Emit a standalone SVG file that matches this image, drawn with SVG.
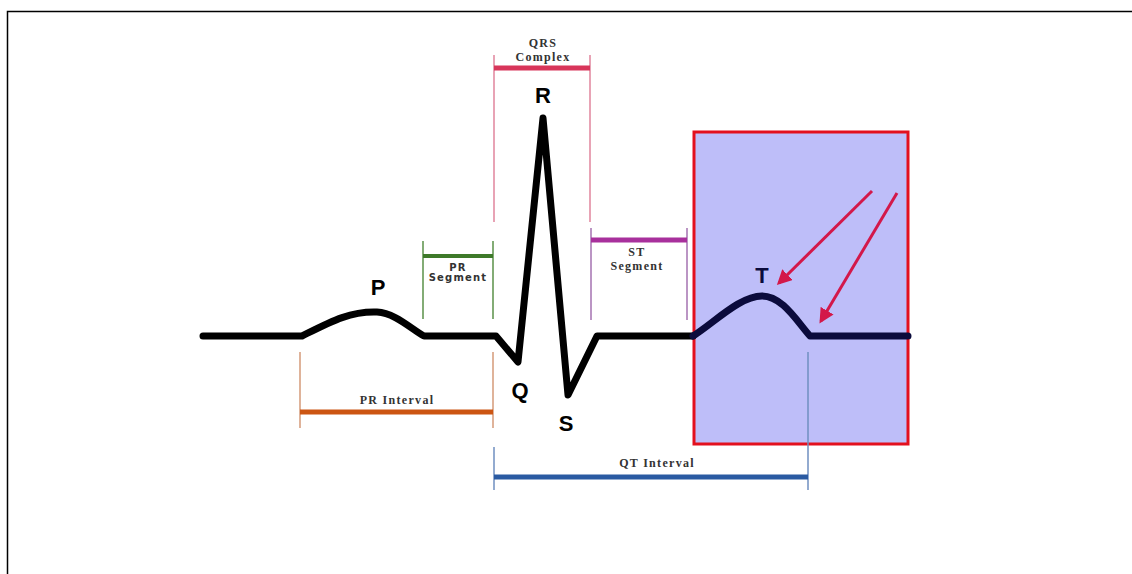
<svg xmlns="http://www.w3.org/2000/svg" width="1132" height="574" viewBox="0 0 1132 574">
<defs>
<style>
.wave{fill:none;stroke:#000;stroke-width:7;stroke-linejoin:round;stroke-linecap:round}
.lbl{font-family:"Liberation Sans",Arial,sans-serif;font-weight:bold;font-size:22px;text-anchor:middle}
.sm{font-family:"Liberation Serif","Times New Roman",serif;font-weight:bold;font-size:12px;letter-spacing:1.3px;fill:#333;text-anchor:middle}
.ss{font-family:"DejaVu Sans",Verdana,sans-serif;font-weight:bold;font-size:10px;letter-spacing:1.2px;fill:#333;text-anchor:middle}
.arrow{stroke:#d3184a;stroke-width:3;fill:none}
</style>
<marker id="ah" viewBox="0 0 10 10" refX="8" refY="5" markerWidth="5" markerHeight="5" orient="auto">
<path d="M0,0 L10,5 L0,10 z" fill="#d3184a"/>
</marker>
</defs>
<rect width="1132" height="574" fill="#fff"/>
<path d="M7.5,574 V11.5 H1132" fill="none" stroke="#000" stroke-width="1.5"/>

<g id="highlight">
<rect x="694" y="132" width="214" height="312" fill="#bebef9" stroke="#e3101e" stroke-width="3"/>
</g>

<g id="connectors">
<!-- QRS complex -->
<g stroke="#e0849c" stroke-width="1.5">
<line x1="494" y1="55" x2="494" y2="222"/>
<line x1="590" y1="55" x2="590" y2="222"/>
</g>
<line x1="494" y1="68" x2="590" y2="68" stroke="#d8355a" stroke-width="5"/>
<!-- PR segment -->
<g stroke="#5a9048" stroke-width="1.5">
<line x1="423" y1="241" x2="423" y2="319"/>
<line x1="493" y1="241" x2="493" y2="319"/>
</g>
<line x1="423" y1="256" x2="493" y2="256" stroke="#3e7a2a" stroke-width="4"/>
<!-- ST segment -->
<g stroke="#a472b0" stroke-width="1.5">
<line x1="591" y1="228" x2="591" y2="320"/>
<line x1="687" y1="228" x2="687" y2="320"/>
</g>
<line x1="591" y1="240" x2="687" y2="240" stroke="#a8309c" stroke-width="5"/>
<!-- PR interval -->
<g stroke="#d49a78" stroke-width="1.5">
<line x1="300" y1="352" x2="300" y2="428"/>
<line x1="493" y1="352" x2="493" y2="428"/>
</g>
<line x1="300" y1="412" x2="493" y2="412" stroke="#cc5512" stroke-width="5"/>
<!-- QT interval -->
<g stroke="#6f8fc0" stroke-width="1.5">
<line x1="494" y1="447" x2="494" y2="490"/>
<line x1="808" y1="352" x2="808" y2="490"/>
</g>
<line x1="494" y1="477" x2="808" y2="477" stroke="#2a5aa2" stroke-width="5"/>
<!-- arrows -->
<line class="arrow" x1="872" y1="191" x2="779" y2="283" marker-end="url(#ah)"/>
<line class="arrow" x1="897" y1="193" x2="821" y2="321" marker-end="url(#ah)"/>
</g>

<g id="ecg">
<path class="wave" d="M203,336 H302 C330,322 350,311 377,312 C395,313 410,328 424,336 H496 L518,362 L543,118 L568,395 L597,336 H693"/>
<path class="wave" style="stroke:#0b0b3c" d="M693,336 C715,322 740,296 762,296 C782,296 796,320 810,336 H908"/>
</g>

<g id="labels">
<text class="lbl" x="378" y="295">P</text>
<text class="lbl" x="543" y="103">R</text>
<text class="lbl" x="520" y="398">Q</text>
<text class="lbl" x="566" y="431">S</text>
<text class="lbl" x="762" y="283" fill="#0b0b3c">T</text>
<text class="sm" x="543" y="47">QRS</text>
<text class="sm" x="543" y="61">Complex</text>
<text class="ss" x="458" y="271">PR</text>
<text class="ss" x="458" y="281">Segment</text>
<text class="sm" x="637" y="256">ST</text>
<text class="sm" x="637" y="270">Segment</text>
<text class="sm" x="397" y="404">PR Interval</text>
<text class="sm" x="657" y="467">QT Interval</text>
</g>
</svg>
